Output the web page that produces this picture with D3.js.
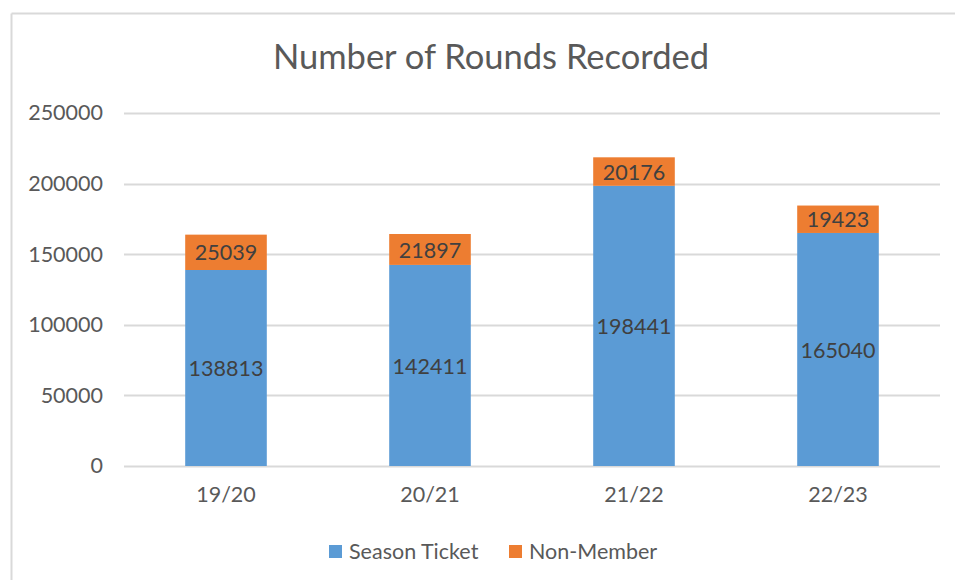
<!DOCTYPE html>
<html>
<head>
<meta charset="utf-8">
<script src="https://cdn.jsdelivr.net/npm/d3@7"></script>
<style>
  body { margin: 0; background: #fff; }
  text { font-family: Lato, "Open Sans", sans-serif; }
</style>
</head>
<body>
<div id="chart"></div>
<script>
// Data
var categories = ["19/20", "20/21", "21/22", "22/23"];
var seasonTicket = [138813, 142411, 198441, 165040];
var nonMember = [25039, 21897, 20176, 19423];
var yTicks = [0, 50000, 100000, 150000, 200000, 250000];
var seriesNames = ["Season Ticket", "Non-Member"];
var colors = ["#5b9bd5", "#ed7d31"];

var width = 955, height = 580;
var plot = { left: 124, right: 940, top: 113, bottom: 466 };
var fontSize = "21.5px";

var svg = d3.select("#chart").append("svg")
    .attr("width", width)
    .attr("height", height);

// outer frame (only top and left visible)
svg.append("line").attr("x1", 11.5).attr("x2", 955).attr("y1", 13.5).attr("y2", 13.5)
    .attr("stroke", "#d9d9d9").attr("stroke-width", 2);
svg.append("line").attr("x1", 11.5).attr("x2", 11.5).attr("y1", 13.5).attr("y2", 580)
    .attr("stroke", "#d9d9d9").attr("stroke-width", 2);

// title
svg.append("text")
    .attr("x", 491).attr("y", 69)
    .attr("text-anchor", "middle")
    .style("font-size", "34.5px")
    .attr("fill", "#595959")
    .text("Number of Rounds Recorded");

var x = d3.scaleBand()
    .domain(categories)
    .range([plot.left, plot.right])
    .paddingInner(0.6)
    .paddingOuter(0.3);

var y = d3.scaleLinear()
    .domain([0, 250000])
    .range([plot.bottom, plot.top]);

// gridlines
svg.append("g")
    .selectAll("line")
    .data(yTicks)
    .enter().append("line")
    .attr("x1", plot.left).attr("x2", plot.right)
    .attr("y1", d => Math.round(y(d)) + 0.5)
    .attr("y2", d => Math.round(y(d)) + 0.5)
    .attr("stroke", "#d9d9d9")
    .attr("stroke-width", 2);

// y axis labels
var yAxis = svg.append("g")
    .attr("transform", `translate(${plot.left},0)`)
    .call(d3.axisLeft(y).tickValues(yTicks).tickFormat(d3.format("d")).tickSize(0).tickPadding(21));
yAxis.select(".domain").remove();
yAxis.selectAll("text")
    .style("font-size", fontSize)
    .style("font-family", "Lato, 'Open Sans', sans-serif")
    .attr("fill", "#595959");

// x axis labels
var xAxis = svg.append("g")
    .attr("transform", `translate(0,${plot.bottom})`)
    .call(d3.axisBottom(x).tickSize(0).tickPadding(21));
xAxis.select(".domain").remove();
xAxis.selectAll("text")
    .style("font-size", fontSize)
    .style("font-family", "Lato, 'Open Sans', sans-serif")
    .attr("fill", "#595959");

// stacked bars
var rows = categories.map((c, i) => ({ cat: c, "Season Ticket": seasonTicket[i], "Non-Member": nonMember[i] }));
var stack = d3.stack().keys(seriesNames)(rows);

var layers = svg.append("g")
    .selectAll("g")
    .data(stack)
    .enter().append("g")
    .attr("fill", (d, i) => colors[i]);

layers.selectAll("rect")
    .data(d => d)
    .enter().append("rect")
    .attr("x", d => x(d.data.cat))
    .attr("y", d => y(d[1]))
    .attr("width", x.bandwidth())
    .attr("height", d => y(d[0]) - y(d[1]));

// data labels
layers.selectAll("text")
    .data(d => d)
    .enter().append("text")
    .attr("x", d => x(d.data.cat) + x.bandwidth() / 2)
    .attr("y", d => (y(d[0]) + y(d[1])) / 2)
    .attr("dy", "0.38em")
    .attr("text-anchor", "middle")
    .style("font-size", fontSize)
    .attr("fill", "#404040")
    .text(d => d[1] - d[0]);

// legend
var legendX = [329, 509];
var legend = svg.append("g")
    .selectAll("g")
    .data(seriesNames)
    .enter().append("g")
    .attr("transform", (d, i) => `translate(${legendX[i]},545)`);
legend.append("rect")
    .attr("width", 13).attr("height", 13)
    .attr("fill", (d, i) => colors[i]);
legend.append("text")
    .attr("x", 20).attr("y", 6.5)
    .attr("dy", "0.36em")
    .style("font-size", fontSize)
    .attr("fill", "#595959")
    .text(d => d);
</script>
</body>
</html>
